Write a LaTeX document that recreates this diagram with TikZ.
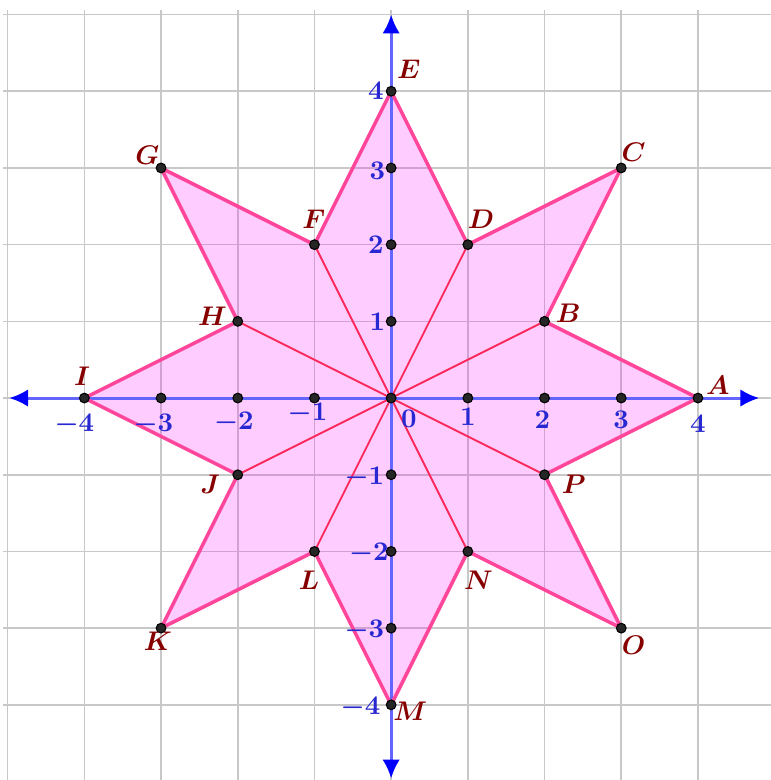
\documentclass[tikz,border=0pt]{standalone}
\usetikzlibrary{arrows.meta,calc}
\definecolor{gridc}{RGB}{200,200,200}
\definecolor{axisc}{RGB}{100,100,255}
\definecolor{tickc}{RGB}{40,40,210}
\definecolor{edgec}{RGB}{255,70,155}
\definecolor{rayc}{RGB}{255,40,90}
\definecolor{labc}{RGB}{135,0,0}
\definecolor{starfill}{RGB}{255,0,255}
\begin{document}
\begin{tikzpicture}[x=1cm,y=1cm,
  ptdot/.style={circle,fill=black!85,draw=black,inner sep=0pt,minimum size=3.6pt},
  ptlab/.style={text=labc,font=\boldmath\normalsize,inner sep=0pt},
  ticklab/.style={text=tickc,font=\boldmath\normalsize,inner sep=0pt},
  axisline/.style={axisc,line width=1.1pt},
  axtip/.style={-{Latex[length=7pt,width=6.5pt,color=blue]}}]
\useasboundingbox (-5.1,-4.98) rectangle (4.95,5.19);
\fill[white] (-5.1,-4.98) rectangle (4.95,5.19);
% grid
\draw[gridc,line width=0.6pt] (-5.06,-5.06) grid (5.06,5.06);
% vertices
\coordinate (A) at (4,0);   \coordinate (B) at (2,1);
\coordinate (C) at (3,3);   \coordinate (D) at (1,2);
\coordinate (E) at (0,4);   \coordinate (F) at (-1,2);
\coordinate (G) at (-3,3);  \coordinate (H) at (-2,1);
\coordinate (I) at (-4,0);  \coordinate (J) at (-2,-1);
\coordinate (K) at (-3,-3); \coordinate (L) at (-1,-2);
\coordinate (M) at (0,-4);  \coordinate (N) at (1,-2);
\coordinate (O) at (3,-3);  \coordinate (P) at (2,-1);
\coordinate (Z) at (0,0);
% star fill
\fill[starfill,fill opacity=0.2] (A)--(B)--(C)--(D)--(E)--(F)--(G)--(H)--(I)--(J)--(K)--(L)--(M)--(N)--(O)--(P)--cycle;
% rays
\foreach \q in {B,D,F,H,J,L,N,P} \draw[rayc,line width=0.7pt] (Z)--(\q);
% axes
\coordinate (xl) at (-4.98,0); \coordinate (xr) at (4.8,0);
\coordinate (yt) at (0,5.0);   \coordinate (yb) at (0,-4.96);
\draw[axisline,axtip] (Z)--(xr);
\draw[axisline,axtip] (Z)--(xl);
\draw[axisline,axtip] (Z)--(yt);
\draw[axisline,axtip] (Z)--(yb);
% star outline
\draw[edgec,line width=1.3pt,line join=round] (A)--(B)--(C)--(D)--(E)--(F)--(G)--(H)--(I)--(J)--(K)--(L)--(M)--(N)--(O)--(P)--cycle;
% axis tick points
\foreach \v in {-3,-2,-1,1,2,3} {
  \node[ptdot] (tx\v) at (\v,0) {};
  \node[ptdot] (ty\v) at (0,\v) {};
}
\node[ptdot] (oz) at (Z) {};
% tick labels
\node[ticklab] (lx-4) at (-4.13,-0.34) {$-4$};
\node[ticklab] (lx-3) at (-3.1,-0.35) {$-3$};
\node[ticklab] (lx-2) at (-2.05,-0.32) {$-2$};
\node[ticklab] (lx-1) at (-1.09,-0.2) {$-1$};
\node[ticklab] (lx0) at (0.23,-0.27) {$0$};
\node[ticklab] (lx1) at (1,-0.25) {$1$};
\node[ticklab] (lx2) at (1.97,-0.29) {$2$};
\node[ticklab] (lx3) at (3,-0.29) {$3$};
\node[ticklab] (lx4) at (4,-0.33) {$4$};
\node[ticklab] (ly4) at (-0.2,4) {$4$};
\node[ticklab] (ly3) at (-0.18,2.96) {$3$};
\node[ticklab] (ly2) at (-0.2,2) {$2$};
\node[ticklab] (ly1) at (-0.18,0.99) {$1$};
\node[ticklab] (ly-1) at (-0.35,-1.04) {$-1$};
\node[ticklab] (ly-2) at (-0.29,-2.03) {$-2$};
\node[ticklab] (ly-3) at (-0.35,-3.03) {$-3$};
\node[ticklab] (ly-4) at (-0.4,-4.03) {$-4$};
% star points and labels
\foreach \p/\dx/\dy in {A/0.26/0.17, B/0.31/0.1, C/0.16/0.2, D/0.17/0.33,
  E/0.23/0.29, F/-0.01/0.33, G/-0.18/0.17, H/-0.33/0.07, I/-0.03/0.29,
  J/-0.36/-0.13, K/-0.04/-0.17, L/-0.07/-0.38, M/0.25/-0.09, N/0.14/-0.38,
  O/0.16/-0.22, P/0.38/-0.13} {
  \node[ptdot] (d\p) at (\p) {};
  \node[ptlab] (n\p) at ($(\p)+(\dx,\dy)$) {$\p$};
}
\end{tikzpicture}
\end{document}
